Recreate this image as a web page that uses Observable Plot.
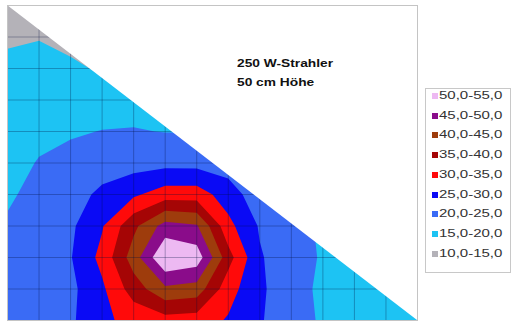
<!DOCTYPE html>
<html><head><meta charset="utf-8">
<script src="https://cdn.jsdelivr.net/npm/d3@7"></script>
<script src="https://cdn.jsdelivr.net/npm/@observablehq/plot@0.6"></script>
<style>
body{margin:0;background:#fff;font-family:"Liberation Sans",Arial,sans-serif;}
#wrap{position:relative;width:512px;height:322px;overflow:hidden;}
#title{position:absolute;left:237px;top:54px;font-weight:bold;font-size:11px;line-height:19px;color:#111;transform:scaleX(1.25);transform-origin:0 0;white-space:nowrap;}
#legend{position:absolute;left:425px;top:88px;width:86px;height:185px;border:1px solid #c8c8c8;box-sizing:border-box;background:#fff;}
.sw{position:absolute;width:6px;height:6px;}
.lb{position:absolute;font-size:10px;line-height:12px;color:#333;transform:scaleX(1.5);transform-origin:0 50%;white-space:nowrap;}
</style></head>
<body>
<div id="wrap"><div id="chart"></div>
<div id="title">250 W-Strahler<br>50 cm Höhe</div>
<div id="legend"></div></div>
<script>
// contour classes (lower bound) with labels and colours
const thresholds = [10, 15, 20, 25, 30, 35, 40, 45, 50];
const levels = ["10,0-15,0","15,0-20,0","20,0-25,0","25,0-30,0","30,0-35,0","35,0-40,0","40,0-45,0","45,0-50,0","50,0-55,0"];
const colors = ["#B4B2B8","#1DC3F3","#3A6BF5","#0A0AF5","#FF0A0A","#A50505","#9E3C0C","#8A0C8A","#EDB9F2"];

// measured values on the grid (rows top to bottom, columns left to right)
const row0  = [13.5,13.5,15.0,15.3,15.4,15.5,15.5,15.4,15.1,14.8,14.3,13.8,13.3,12.8];
const row1  = [14.4,14.8,12.5,16.2,16.4,16.5,16.5,16.4,16.1,15.7,15.2,14.6,13.9,13.3];
const row2  = [16.0,16.5,16.5,14.0,17.4,17.5,17.5,17.3,17.0,16.6,16.0,15.3,14.6,13.9];
const row3  = [16.8,17.3,17.8,18.3,18.7,18.9,18.8,18.5,17.9,17.4,16.8,16.0,15.3,14.4];
const row4  = [17.5,18.8,19.6,20.1,20.2,19.9,19.9,20.1,19.3,18.3,17.5,16.7,15.8,15.0];
const row5  = [18.2,20.3,21.2,21.8,23.0,23.5,23.4,22.6,20.9,19.5,18.1,17.2,16.3,15.4];
const row6  = [19.3,21.5,22.1,26.5,29.2,32.5,32.5,27.5,22.0,20.6,18.9,17.6,16.7,15.7];
const row7  = [20.6,22.0,24.1,29.6,38.8,47.0,45.5,31.5,24.5,21.5,19.4,17.9,16.9,15.9];
const row8  = [21.0,22.3,24.7,31.5,42.5,55.0,53.0,37.0,25.5,21.8,19.6,17.9,16.9,15.9];
const row9  = [21.0,22.0,23.8,29.1,37.4,43.9,42.8,32.0,26.0,21.4,19.3,17.8,16.8,15.9];
const row10 = [20.8,21.5,24.2,29.0,31.5,33.0,32.5,29.5,25.6,21.0,19.7,17.5,16.6,15.6];
const heat = [row0,row1,row2,row3,row4,row5,row6,row7,row8,row9,row10];

const nx = heat[0].length, ny = heat.length;
const gridXs = d3.range(1, nx - 1), gridYs = d3.range(1, ny - 1);
const diag = [{x: 0, y: 0, top: 0}, {x: nx - 1, y: ny - 1, top: 0}];

const chart = Plot.plot({
  width: 512, height: 322,
  marginLeft: 7, marginRight: 95, marginTop: 5, marginBottom: 2,
  x: {domain: [0, nx - 1], axis: null},
  y: {domain: [0, ny - 1], axis: null, reverse: true},
  color: {type: "ordinal", domain: thresholds, range: colors},
  marks: [
    Plot.contour(heat.flat(), {width: nx, height: ny, x1: -0.5, x2: nx - 0.5, y1: -0.5, y2: ny - 0.5,
      thresholds, fill: Plot.identity, stroke: "none", clip: true}),
    Plot.ruleX(gridXs, {stroke: "#001040", strokeOpacity: 0.3}),
    Plot.ruleY(gridYs, {stroke: "#001040", strokeOpacity: 0.3}),
    Plot.area(diag, {x1: "x", y1: "y", y2: "top", fill: "white", curve: "linear"}),
    Plot.frame({stroke: "#c4c4c4"})
  ]
});
document.getElementById("chart").appendChild(chart);

const lg = document.getElementById("legend");
for (let k = levels.length - 1, i = 0; k >= 0; k--, i++) {
  const cy = 7 + i * 19.7;
  const s = document.createElement("div");
  s.className = "sw"; s.style.left = "6px"; s.style.top = (cy - 3) + "px"; s.style.background = colors[k];
  lg.appendChild(s);
  const t = document.createElement("div");
  t.className = "lb"; t.style.left = "13px"; t.style.top = (cy - 6) + "px"; t.textContent = levels[k];
  lg.appendChild(t);
}
</script>
</body></html>
